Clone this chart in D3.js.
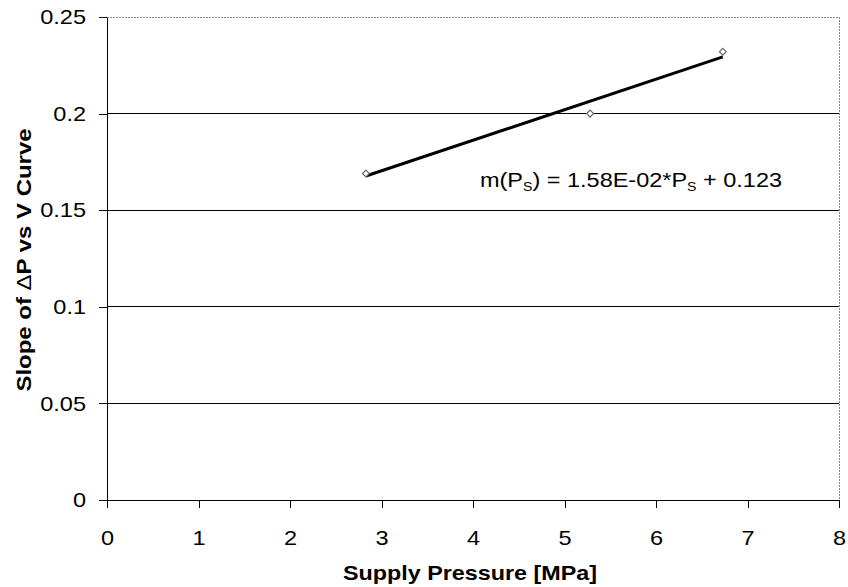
<!DOCTYPE html>
<html><head><meta charset="utf-8">
<script src="https://cdn.jsdelivr.net/npm/d3@7"></script>
<style>body{margin:0;background:#fff}svg{display:block}text{font-family:"Liberation Sans",Arial,sans-serif;fill:#000}</style>
</head><body>
<svg id="c" width="848" height="587"></svg>
<script>
const supplyPressure = [2.83, 5.28, 6.73];
const slopeValues = [0.169, 0.200, 0.232];
const trendSlope = [0.0158];
const trendIntercept = [0.123];
const xTicks = [0,1,2,3,4,5,6,7,8];
const yTicks = [0,0.05,0.1,0.15,0.2,0.25];
const yTickLabels = ["0","0.05","0.1","0.15","0.2","0.25"];

const svg = d3.select("#c");
const x = d3.scaleLinear().domain([0,8]).range([107,839]);
const y = d3.scaleLinear().domain([0,0.25]).range([500,17]);
const STRETCH = 1.12;
function stretch(sel){
  sel.each(function(){
    const w = this.getComputedTextLength();
    this.setAttribute("textLength", w*STRETCH);
    this.setAttribute("lengthAdjust","spacingAndGlyphs");
  });
}

// grid lines
svg.append("g").selectAll("line").data(yTicks.filter(d=>d>0 && d<0.25)).join("line")
  .attr("x1",x(0)).attr("x2",x(8)).attr("y1",d=>y(d)).attr("y2",d=>y(d))
  .attr("stroke","#000").attr("stroke-width",1).attr("shape-rendering","crispEdges");
// dotted top & right border
svg.append("path").attr("d",`M${x(0)},${y(0.25)}H${x(8)}V${y(0)}`)
  .attr("fill","none").attr("stroke","#888").attr("stroke-width",1).attr("stroke-dasharray","2,1").attr("shape-rendering","crispEdges");

const xAxis = svg.append("g").attr("transform",`translate(0,${y(0)})`)
  .call(d3.axisBottom(x).tickValues(xTicks).tickSize(8).tickSizeOuter(0).tickPadding(22).tickFormat(d3.format("d")));
const yAxis = svg.append("g").attr("transform",`translate(${x(0)},0)`)
  .call(d3.axisLeft(y).tickValues(yTicks).tickSize(8).tickSizeOuter(0).tickPadding(13).tickFormat((d,i)=>yTickLabels[i]));
[xAxis,yAxis].forEach(g=>{
  g.selectAll("text").attr("font-size",21).attr("font-family","Liberation Sans, Arial, sans-serif").attr("fill","#000");
  g.selectAll("line,path").attr("stroke","#000").attr("shape-rendering","crispEdges");
  stretch(g.selectAll("text"));
});

// trend line
const tx = [d3.min(supplyPressure), d3.max(supplyPressure)];
svg.append("path")
  .attr("d", d3.line().x(d=>x(d)).y(d=>y(trendSlope[0]*d+trendIntercept[0]))(tx))
  .attr("stroke","#000").attr("stroke-width",3).attr("fill","none");

// markers (small diamonds)
svg.append("g").selectAll("path").data(supplyPressure).join("path")
  .attr("d", d3.symbol().type(d3.symbolDiamond2).size(30))
  .attr("transform",(d,i)=>`translate(${x(d)},${y(slopeValues[i])})`)
  .attr("fill","#fff").attr("stroke","#666").attr("stroke-width",1.2);

// equation annotation
const eq = svg.append("text").attr("x",480).attr("y",187).attr("font-size",20)
  .attr("textLength",302).attr("lengthAdjust","spacingAndGlyphs");
eq.append("tspan").text("m(P");
eq.append("tspan").attr("font-size",12).attr("dy",4).text("S");
eq.append("tspan").attr("dy",-4).text(") = 1.58E-02*P");
eq.append("tspan").attr("font-size",12).attr("dy",4).text("S");
eq.append("tspan").attr("dy",-4).text(" + 0.123");

// axis titles
svg.append("text").attr("x",470).attr("y",580).attr("text-anchor","middle")
  .attr("font-size",21).attr("font-weight","bold")
  .attr("textLength",254).attr("lengthAdjust","spacingAndGlyphs").text("Supply Pressure [MPa]");
const yt = svg.append("text").attr("transform","translate(31,260) rotate(-90)").attr("text-anchor","middle")
  .attr("font-size",21).attr("font-weight","bold")
  .attr("textLength",263).attr("lengthAdjust","spacingAndGlyphs");
yt.append("tspan").text("Slope of ");
yt.append("tspan").attr("font-weight","normal").text("Δ");
yt.append("tspan").text("P vs V Curve");
</script>
</body></html>
